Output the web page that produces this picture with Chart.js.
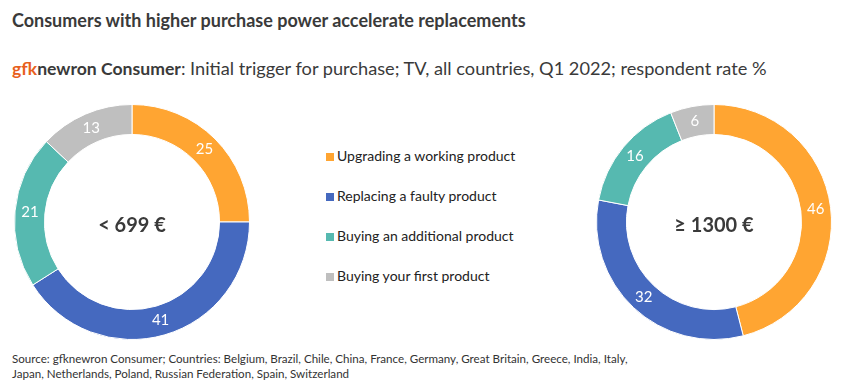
<!DOCTYPE html>
<html>
<head>
<meta charset="utf-8">
<script src="https://cdn.jsdelivr.net/npm/chart.js@4.4.0/dist/chart.umd.min.js"></script>
<style>
    body { margin: 0; background: #fff; font-family: Lato, sans-serif; color: #3a3a3a; }
    #page { position: relative; width: 847px; height: 385px; overflow: hidden; }
    .title { position: absolute; left: 12px; top: 9px; font-size: 18px; font-weight: bold; }
    .subtitle { position: absolute; left: 12px; top: 57px; font-size: 18.2px; white-space: nowrap; }
    .subtitle b { font-weight: bold; font-size: 17.6px; }
    .subtitle .gfk { color: #e8601c; }
    .donut { position: absolute; width: 240px; height: 240px; }
    #legend { position: absolute; left: 326px; top: 147px; font-size: 14px; color: #222; }
    .legend-item { height: 40px; display: flex; align-items: flex-start; }
    .legend-box { width: 8px; height: 8px; margin-right: 3px; margin-top: 6px; }
    .note { position: absolute; left: 12px; top: 351px; font-size: 11.6px; line-height: 15px; color: #333; }
</style>
</head>
<body>
<div id="page">
    <div class="title">Consumers with higher purchase power accelerate replacements</div>
    <div class="subtitle"><b><span class="gfk">gfk</span>newron Consumer</b>: Initial trigger for purchase; TV, all countries, Q1 2022; respondent rate %</div>
    <div class="donut" style="left: 12px; top: 102px;"><canvas id="lowChart"></canvas></div>
    <div id="legend"></div>
    <div class="donut" style="left: 594px; top: 102px;"><canvas id="highChart"></canvas></div>
    <div class="note">Source: gfknewron Consumer; Countries: Belgium, Brazil, Chile, China, France, Germany, Great Britain, Greece, India, Italy,<br>Japan, Netherlands, Poland, Russian Federation, Spain, Switzerland</div>
</div>
<script>
const categories = ['Upgrading a working product', 'Replacing a faulty product', 'Buying an additional product', 'Buying your first product'];
const lowValues = [25, 41, 21, 13];
const highValues = [46, 32, 16, 6];
const colors = ['#ffa532', '#4569bf', '#56b9b0', '#bfbfbf'];

// HTML legend built from the categories
const legend = document.getElementById('legend');
categories.forEach((name, i) => {
    const item = document.createElement('div');
    item.className = 'legend-item';
    item.innerHTML = '<span class="legend-box" style="background:' + colors[i] + '"></span>' + name;
    legend.appendChild(item);
});

// White values in the middle of each ring segment, plus centre caption
const donutLabels = {
    id: 'donutLabels',
    afterDatasetsDraw(chart, args, opts) {
        const ctx = chart.ctx;
        const meta = chart.getDatasetMeta(0);
        ctx.save();
        ctx.textAlign = 'center';
        ctx.textBaseline = 'middle';
        ctx.fillStyle = '#fff';
        ctx.font = '15px Lato';
        meta.data.forEach((arc, i) => {
            const p = arc.tooltipPosition();
            ctx.fillText(chart.data.datasets[0].data[i], p.x, p.y);
        });
        const c = meta.data[0];
        ctx.fillStyle = '#3a3a3a';
        ctx.font = 'bold 20px Lato';
        ctx.fillText(opts.text, c.x, c.y + 4);
        ctx.restore();
    }
};

function makeDonut(id, values, caption) {
    new Chart(document.getElementById(id), {
        type: 'doughnut',
        data: {
            labels: categories,
            datasets: [{
                data: values,
                backgroundColor: colors,
                borderColor: '#fff',
                borderWidth: 1
            }]
        },
        options: {
            responsive: true,
            maintainAspectRatio: false,
            animation: false,
            cutout: '74.5%',
            layout: { padding: 2 },
            plugins: {
                legend: { display: false },
                tooltip: { enabled: false },
                donutLabels: { text: caption }
            }
        },
        plugins: [donutLabels]
    });
}

makeDonut('lowChart', lowValues, '< 699 €');
makeDonut('highChart', highValues, '≥ 1300 €');
</script>
</body>
</html>
